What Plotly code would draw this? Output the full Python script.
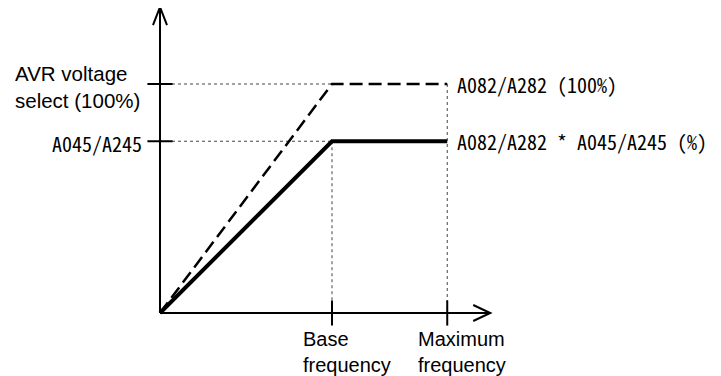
import plotly.graph_objects as go

# frequency (relative to base frequency) and output voltage (% of AVR voltage)
freq = [0, 1.0, 1.67]
avr_voltage = [0, 100, 100]
a045_voltage = [0, 75, 75]
base_f = 1.0
max_f = 1.67
a045_level = 75
avr_level = 100

x_labels = ['Base<br>frequency', 'Maximum<br>frequency']
y_labels = ['AVR voltage<br>select (100%)', 'A045/A245']
right_labels = ['A082/A282 (100%)', 'A082/A282 * A045/A245 (%)']

x_end = 1.92
y_end = 133.6

mono = 'Noto Sans Mono CJK JP, Noto Sans CJK JP, Liberation Mono, monospace'
sans = 'Liberation Sans, Arial, sans-serif'

# page pixel mapping (the page body has an 8px margin)
off = 8
px_x, org_x = 172, 160
px_y, org_y = 2.29, 313

fig = go.Figure()

# dotted guide lines
dot = dict(color='#444444', width=1, dash='dot')
fig.add_trace(go.Scatter(x=[0, base_f], y=[avr_level, avr_level], mode='lines', line=dot))
fig.add_trace(go.Scatter(x=[0, base_f], y=[a045_level, a045_level], mode='lines', line=dot))
fig.add_trace(go.Scatter(x=[base_f, base_f], y=[a045_level, 0], mode='lines', line=dot))
fig.add_trace(go.Scatter(x=[max_f, max_f], y=[avr_level, 0], mode='lines', line=dot))

# V/f curves
fig.add_trace(go.Scatter(x=freq, y=avr_voltage, mode='lines',
                         line=dict(color='black', width=2.5, dash='13px,6px')))
fig.add_trace(go.Scatter(x=freq, y=a045_voltage, mode='lines',
                         line=dict(color='black', width=4)))

# tick marks
fig.add_trace(go.Scatter(x=[base_f, max_f], y=[0, 0], mode='markers',
                         marker=dict(symbol='line-ns', size=18,
                                     line=dict(color='black', width=2))))
fig.add_trace(go.Scatter(x=[0, 0], y=[avr_level, a045_level], mode='markers',
                         marker=dict(symbol='line-ew', size=18,
                                     line=dict(color='black', width=2))))

# axes with open arrow heads
shapes = [
    dict(type='line', x0=0, y0=0, x1=x_end, y1=0, line=dict(color='black', width=2)),
    dict(type='line', x0=0, y0=0, x1=0, y1=y_end, line=dict(color='black', width=2)),
    dict(type='path', xsizemode='pixel', ysizemode='pixel', xanchor=x_end, yanchor=0,
         path='M-17,-8 L0,0 L-17,8', line=dict(color='black', width=2)),
    dict(type='path', xsizemode='pixel', ysizemode='pixel', xanchor=0, yanchor=y_end,
         path='M-7,-18 L0,0 L7,-18', line=dict(color='black', width=2)),
]

common = dict(showarrow=False)
annotations = [
    dict(x=base_f, y=0, text=x_labels[0], xanchor='left', yanchor='top', align='left',
         xshift=-31, yshift=-13, font=dict(family=sans, size=20, color='black'), **common),
    dict(x=max_f, y=0, text=x_labels[1], xanchor='left', yanchor='top', align='left',
         xshift=-31, yshift=-13, font=dict(family=sans, size=20, color='black'), **common),
    dict(x=0, y=avr_level, text=y_labels[0], xanchor='right', yanchor='middle', align='left',
         xshift=-18, yshift=-3, font=dict(family=sans, size=20.5, color='black'), **common),
    dict(x=0, y=a045_level, text=y_labels[1], xanchor='right', yanchor='middle',
         xshift=-16, yshift=-2, font=dict(family=mono, size=20, color='black'), **common),
    dict(x=max_f, y=avr_level, text=right_labels[0], xanchor='left', yanchor='middle',
         xshift=8, font=dict(family=mono, size=20, color='black'), **common),
    dict(x=max_f, y=a045_level, text=right_labels[1], xanchor='left', yanchor='middle',
         xshift=8, font=dict(family=mono, size=20, color='black'), **common),
]

fig.update_layout(
    width=721,
    height=376,
    margin=dict(l=0, r=0, t=0, b=0),
    plot_bgcolor='white',
    paper_bgcolor='white',
    showlegend=False,
    shapes=shapes,
    annotations=annotations,
    xaxis=dict(range=[(off - org_x) / px_x, (off + 721 - org_x) / px_x],
               visible=False, fixedrange=True),
    yaxis=dict(range=[(org_y - off - 376) / px_y, (org_y - off) / px_y],
               visible=False, fixedrange=True),
)

fig.write_html("out.html")
